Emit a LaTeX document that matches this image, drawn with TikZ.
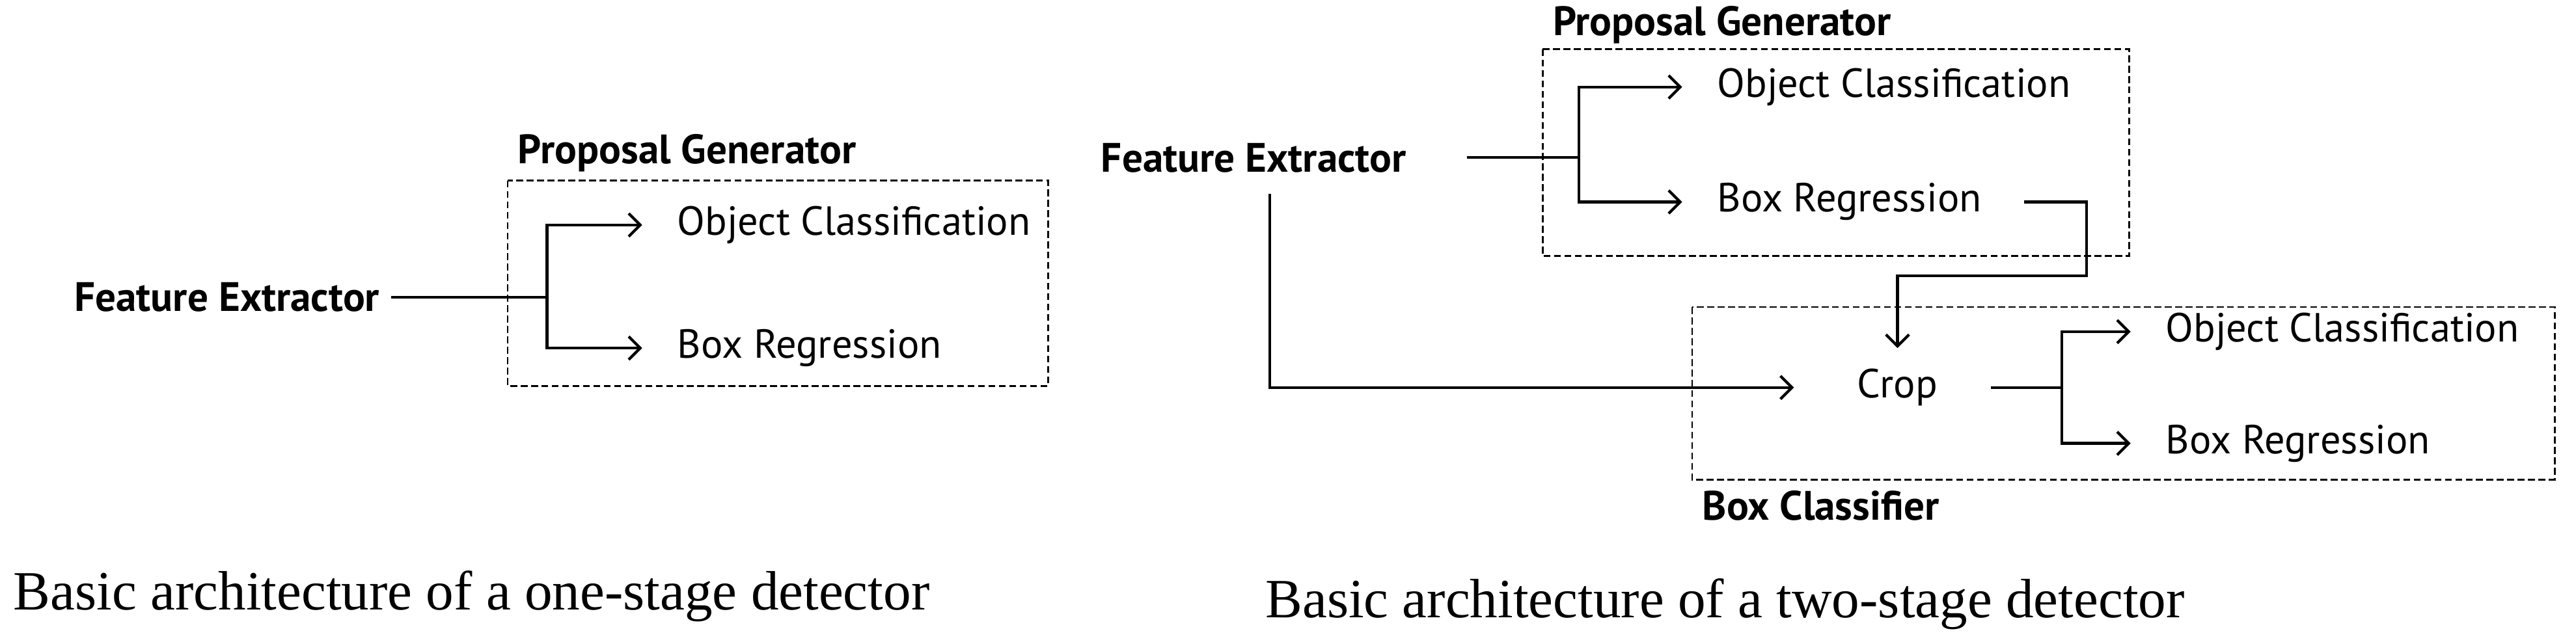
\documentclass[tikz,border=0pt]{standalone}
\usepackage{fontspec}
\setmainfont{Liberation Serif}
\newfontfamily\lblfont{PT Sans}
\usetikzlibrary{arrows.meta}
\begin{document}
\begin{tikzpicture}[x=0.025cm,y=-0.025cm,
  lbl/.style={font=\lblfont\fontsize{17.6}{20}\selectfont,inner sep=0pt,anchor=west},
  bl/.style={font=\lblfont\bfseries\fontsize{17.8}{20}\selectfont,inner sep=0pt,anchor=west},
  captxt/.style={font=\fontsize{24}{28}\selectfont,inner sep=0pt,anchor=west},
  ln/.style={line width=1.2pt},
  ar/.style={ln,-{Straight Barb[length=5pt,width=10pt]}},
  grp/.style={draw,line width=0.8pt,dash pattern=on 3pt off 1.5pt}]
\useasboundingbox (0,0) rectangle (1568,391);
% ---- one-stage
\node[bl] (fe1) at (45,181) {Feature Extractor};
\node[bl] (pg1) at (315,93) {Proposal Generator};
\node[lbl] (oc1) at (412,137) {Object Classification};
\node[lbl] (br1) at (412,212) {Box Regression};
\draw[grp] (309,110) rectangle (638,235);
\coordinate (j1) at (333,181);
\draw[ln] (238,181) -- (j1);
\draw[ar] (j1) |- ([xshift=-15]oc1.west);
\draw[ar] (j1) |- ([xshift=-15]br1.west);
\node[captxt] (c1) at (8,363) {Basic architecture of a one-stage detector};
% ---- two-stage
\node[bl] (fe2) at (670,96) {Feature Extractor};
\node[bl] (pg2) at (945,15) {Proposal Generator};
\node[lbl] (oc2) at (1045,53) {Object Classification};
\node[lbl] (br2) at (1045,123) {Box Regression};
\draw[grp] (939,30) rectangle (1296,156);
\coordinate (j2) at (961,96);
\draw[ln] (893,96) -- (j2);
\draw[ar] (j2) |- ([xshift=-15]oc2.west);
\draw[ar] (j2) |- ([xshift=-15]br2.west);
\node[lbl,anchor=center] (crop) at (1155,236) {Crop};
\draw[grp] (1030,187) rectangle (1555,292);
\node[bl] (bc) at (1036,308) {Box Classifier};
\draw[ar] (1232,123) -- (1270,123) -- (1270,168) -- (1155,168) -- (1155,212);
\draw[ar] (773,118) |- (1092,236);
\coordinate (j3) at (1255,236);
\node[lbl] (oc3) at (1318,202) {Object Classification};
\node[lbl] (br3) at (1318,270) {Box Regression};
\draw[ln] (1212,236) -- (j3);
\draw[ar] (j3) |- ([xshift=-15]oc3.west);
\draw[ar] (j3) |- ([xshift=-15]br3.west);
\node[captxt] (c2) at (770,368) {Basic architecture of a two-stage detector};
\end{tikzpicture}
\end{document}
